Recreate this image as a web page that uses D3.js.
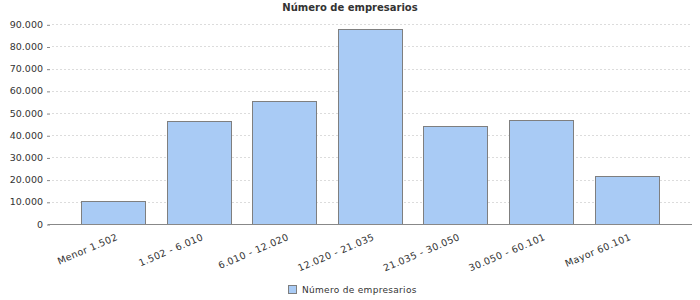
<!DOCTYPE html>
<html>
<head>
<meta charset="utf-8">
<script src="https://cdn.jsdelivr.net/npm/d3@7"></script>
<style>
  body { margin: 0; background: #fff; }
  text { font-family: "DejaVu Sans", sans-serif; fill: #333; }
</style>
</head>
<body>
<div id="chart"></div>
<script>
// tramos y valores
const categories = ['Menor 1.502', '1.502 - 6.010', '6.010 - 12.020', '12.020 - 21.035',
    '21.035 - 30.050', '30.050 - 60.101', 'Mayor 60.101'];
const values = [10400, 46250, 55300, 88000, 44150, 46700, 21500];
const yTicks = [0, 10000, 20000, 30000, 40000, 50000, 60000, 70000, 80000, 90000];
const seriesName = 'Número de empresarios';

const width = 700;
const height = 300;
const plot = { left: 48, right: 692, top: 24, bottom: 224 };

const svg = d3.select('#chart')
    .append('svg')
    .attr('width', width)
    .attr('height', height);

const xScale = d3.scaleBand()
    .domain(categories)
    .range([plot.left, plot.right])
    .paddingInner(0.25)
    .paddingOuter(0.39);

const yScale = d3.scaleLinear()
    .domain([0, 90000])
    .range([plot.bottom, plot.top + 0.3]);

const fmt = d => d3.format(',')(d).replace(/,/g, '.');

// title
svg.append('text')
    .attr('x', 350)
    .attr('y', 11)
    .attr('text-anchor', 'middle')
    .style('font-size', '10px')
    .style('font-weight', 'bold')
    .text('Número de empresarios');

// grid
svg.append('g')
    .selectAll('line')
    .data(yTicks.slice(1))
    .enter()
    .append('line')
    .attr('x1', plot.left + 4)
    .attr('x2', plot.right - 2)
    .attr('y1', d => Math.round(yScale(d)) + 0.5)
    .attr('y2', d => Math.round(yScale(d)) + 0.5)
    .attr('stroke', '#dcdcdc')
    .attr('stroke-dasharray', '2,2');

// y axis
const yAxis = svg.append('g')
    .attr('class', 'y-axis')
    .attr('transform', `translate(${plot.left + 2},0)`)
    .call(d3.axisLeft(yScale).tickValues(yTicks).tickFormat(fmt).tickSize(3).tickPadding(4));
yAxis.select('.domain').remove();
yAxis.selectAll('.tick line').attr('stroke', '#888').attr('transform', 'translate(0,0.5)');
yAxis.selectAll('.tick text').style('font-size', '9.5px').style('fill', '#333');

// bars
svg.selectAll('.bar')
    .data(values)
    .enter()
    .append('rect')
    .attr('class', 'bar')
    .attr('x', (d, i) => Math.round(xScale(categories[i])) + 0.5)
    .attr('y', d => Math.round(yScale(d)) + 0.5)
    .attr('width', Math.round(xScale.bandwidth()))
    .attr('height', d => Math.round(yScale(0)) - Math.round(yScale(d)))
    .style('fill', '#a9cbf5')
    .style('stroke', '#7f7f7f')
    .style('stroke-width', 1);

// x axis
const xAxis = svg.append('g')
    .attr('class', 'x-axis')
    .attr('transform', `translate(0,${Math.round(plot.bottom) + 0.5})`)
    .call(d3.axisBottom(xScale).tickSize(0).tickPadding(0));
xAxis.select('.domain').attr('stroke', '#888').attr('d', `M${plot.left},0H${plot.right}`);
xAxis.selectAll('.tick text')
    .style('font-size', '9.5px')
    .style('letter-spacing', '0.4px')
    .style('fill', '#333')
    .attr('text-anchor', 'end')
    .attr('dy', 0)
    .attr('transform', 'translate(5,15) rotate(-23)');

// legend
const legend = svg.append('g').attr('transform', 'translate(288,285)');
legend.append('rect')
    .attr('x', 0.5)
    .attr('y', 0.5)
    .attr('width', 8)
    .attr('height', 8)
    .style('fill', '#a9cbf5')
    .style('stroke', '#7f7f7f');
legend.append('text')
    .attr('x', 14)
    .attr('y', 8)
    .style('font-size', '9px')
    .style('letter-spacing', '0.3px')
    .text(seriesName);
</script>
</body>
</html>
